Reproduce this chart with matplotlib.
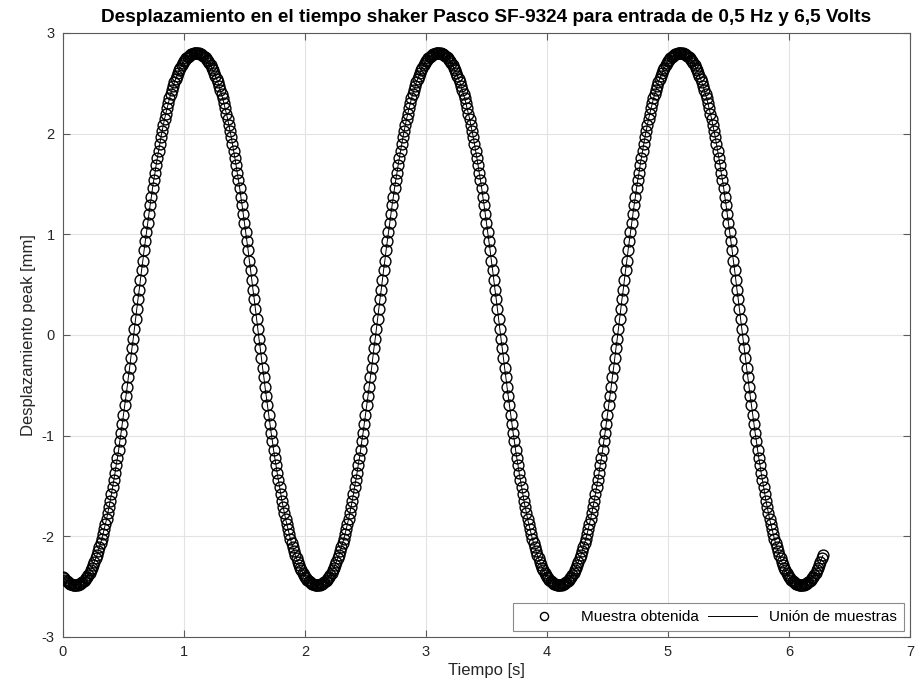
import numpy as np
import matplotlib
matplotlib.use("Agg")
import matplotlib.pyplot as plt

# ---------------- data ----------------
t_inicio = 0.0
t_paso = 0.01          # s, sample spacing
desplazamiento = [
    # t = 0.00 .. 0.10
    -2.40, -2.41, -2.43, -2.44, -2.45, -2.46, -2.47, -2.47, -2.48, -2.48, -2.48,
    # t = 0.11 .. 1.10
    -2.48, -2.48, -2.47, -2.47, -2.46, -2.45, -2.44, -2.43, -2.41, -2.40,
    -2.38, -2.36, -2.33, -2.31, -2.28, -2.25, -2.22, -2.19, -2.15, -2.11,
    -2.07, -2.03, -1.98, -1.93, -1.88, -1.83, -1.77, -1.71, -1.65, -1.58,
    -1.51, -1.44, -1.37, -1.29, -1.22, -1.14, -1.05, -0.97, -0.88, -0.79,
    -0.70, -0.61, -0.52, -0.42, -0.33, -0.23, -0.13, -0.04, 0.06, 0.16,
    0.26, 0.36, 0.45, 0.55, 0.65, 0.74, 0.84, 0.93, 1.02, 1.11,
    1.20, 1.29, 1.37, 1.46, 1.54, 1.61, 1.69, 1.76, 1.83, 1.90,
    1.97, 2.03, 2.09, 2.15, 2.20, 2.25, 2.30, 2.35, 2.39, 2.43,
    2.47, 2.51, 2.54, 2.57, 2.60, 2.63, 2.65, 2.68, 2.70, 2.72,
    2.73, 2.75, 2.76, 2.77, 2.78, 2.79, 2.79, 2.80, 2.80, 2.80,
    # t = 1.11 .. 2.10
    2.80, 2.80, 2.79, 2.79, 2.78, 2.77, 2.76, 2.75, 2.73, 2.72,
    2.70, 2.68, 2.65, 2.63, 2.60, 2.57, 2.54, 2.51, 2.47, 2.43,
    2.39, 2.35, 2.30, 2.25, 2.20, 2.15, 2.09, 2.03, 1.97, 1.90,
    1.83, 1.76, 1.69, 1.61, 1.54, 1.46, 1.37, 1.29, 1.20, 1.11,
    1.02, 0.93, 0.84, 0.74, 0.65, 0.55, 0.45, 0.36, 0.26, 0.16,
    0.06, -0.04, -0.13, -0.23, -0.33, -0.42, -0.52, -0.61, -0.70, -0.79,
    -0.88, -0.97, -1.05, -1.14, -1.22, -1.29, -1.37, -1.44, -1.51, -1.58,
    -1.65, -1.71, -1.77, -1.83, -1.88, -1.93, -1.98, -2.03, -2.07, -2.11,
    -2.15, -2.19, -2.22, -2.25, -2.28, -2.31, -2.33, -2.36, -2.38, -2.40,
    -2.41, -2.43, -2.44, -2.45, -2.46, -2.47, -2.47, -2.48, -2.48, -2.48,
    # t = 2.11 .. 3.10
    -2.48, -2.48, -2.47, -2.47, -2.46, -2.45, -2.44, -2.43, -2.41, -2.40,
    -2.38, -2.36, -2.33, -2.31, -2.28, -2.25, -2.22, -2.19, -2.15, -2.11,
    -2.07, -2.03, -1.98, -1.93, -1.88, -1.83, -1.77, -1.71, -1.65, -1.58,
    -1.51, -1.44, -1.37, -1.29, -1.22, -1.14, -1.05, -0.97, -0.88, -0.79,
    -0.70, -0.61, -0.52, -0.42, -0.33, -0.23, -0.13, -0.04, 0.06, 0.16,
    0.26, 0.36, 0.45, 0.55, 0.65, 0.74, 0.84, 0.93, 1.02, 1.11,
    1.20, 1.29, 1.37, 1.46, 1.54, 1.61, 1.69, 1.76, 1.83, 1.90,
    1.97, 2.03, 2.09, 2.15, 2.20, 2.25, 2.30, 2.35, 2.39, 2.43,
    2.47, 2.51, 2.54, 2.57, 2.60, 2.63, 2.65, 2.68, 2.70, 2.72,
    2.73, 2.75, 2.76, 2.77, 2.78, 2.79, 2.79, 2.80, 2.80, 2.80,
    # t = 3.11 .. 4.10
    2.80, 2.80, 2.79, 2.79, 2.78, 2.77, 2.76, 2.75, 2.73, 2.72,
    2.70, 2.68, 2.65, 2.63, 2.60, 2.57, 2.54, 2.51, 2.47, 2.43,
    2.39, 2.35, 2.30, 2.25, 2.20, 2.15, 2.09, 2.03, 1.97, 1.90,
    1.83, 1.76, 1.69, 1.61, 1.54, 1.46, 1.37, 1.29, 1.20, 1.11,
    1.02, 0.93, 0.84, 0.74, 0.65, 0.55, 0.45, 0.36, 0.26, 0.16,
    0.06, -0.04, -0.13, -0.23, -0.33, -0.42, -0.52, -0.61, -0.70, -0.79,
    -0.88, -0.97, -1.05, -1.14, -1.22, -1.29, -1.37, -1.44, -1.51, -1.58,
    -1.65, -1.71, -1.77, -1.83, -1.88, -1.93, -1.98, -2.03, -2.07, -2.11,
    -2.15, -2.19, -2.22, -2.25, -2.28, -2.31, -2.33, -2.36, -2.38, -2.40,
    -2.41, -2.43, -2.44, -2.45, -2.46, -2.47, -2.47, -2.48, -2.48, -2.48,
    # t = 4.11 .. 5.10
    -2.48, -2.48, -2.47, -2.47, -2.46, -2.45, -2.44, -2.43, -2.41, -2.40,
    -2.38, -2.36, -2.33, -2.31, -2.28, -2.25, -2.22, -2.19, -2.15, -2.11,
    -2.07, -2.03, -1.98, -1.93, -1.88, -1.83, -1.77, -1.71, -1.65, -1.58,
    -1.51, -1.44, -1.37, -1.29, -1.22, -1.14, -1.05, -0.97, -0.88, -0.79,
    -0.70, -0.61, -0.52, -0.42, -0.33, -0.23, -0.13, -0.04, 0.06, 0.16,
    0.26, 0.36, 0.45, 0.55, 0.65, 0.74, 0.84, 0.93, 1.02, 1.11,
    1.20, 1.29, 1.37, 1.46, 1.54, 1.61, 1.69, 1.76, 1.83, 1.90,
    1.97, 2.03, 2.09, 2.15, 2.20, 2.25, 2.30, 2.35, 2.39, 2.43,
    2.47, 2.51, 2.54, 2.57, 2.60, 2.63, 2.65, 2.68, 2.70, 2.72,
    2.73, 2.75, 2.76, 2.77, 2.78, 2.79, 2.79, 2.80, 2.80, 2.80,
    # t = 5.11 .. 6.10
    2.80, 2.80, 2.79, 2.79, 2.78, 2.77, 2.76, 2.75, 2.73, 2.72,
    2.70, 2.68, 2.65, 2.63, 2.60, 2.57, 2.54, 2.51, 2.47, 2.43,
    2.39, 2.35, 2.30, 2.25, 2.20, 2.15, 2.09, 2.03, 1.97, 1.90,
    1.83, 1.76, 1.69, 1.61, 1.54, 1.46, 1.37, 1.29, 1.20, 1.11,
    1.02, 0.93, 0.84, 0.74, 0.65, 0.55, 0.45, 0.36, 0.26, 0.16,
    0.06, -0.04, -0.13, -0.23, -0.33, -0.42, -0.52, -0.61, -0.70, -0.79,
    -0.88, -0.97, -1.05, -1.14, -1.22, -1.29, -1.37, -1.44, -1.51, -1.58,
    -1.65, -1.71, -1.77, -1.83, -1.88, -1.93, -1.98, -2.03, -2.07, -2.11,
    -2.15, -2.19, -2.22, -2.25, -2.28, -2.31, -2.33, -2.36, -2.38, -2.40,
    -2.41, -2.43, -2.44, -2.45, -2.46, -2.47, -2.47, -2.48, -2.48, -2.48,
    # t = 6.11 .. 6.28
    -2.48, -2.48, -2.47, -2.47, -2.46, -2.45, -2.44, -2.43, -2.41, -2.40,
    -2.38, -2.36, -2.33, -2.31, -2.28, -2.25, -2.22, -2.19,
]
tiempo = t_inicio + t_paso * np.arange(len(desplazamiento))

x_ticks = [0, 1, 2, 3, 4, 5, 6, 7]
y_ticks = [-3, -2, -1, 0, 1, 2, 3]

titulo = "Desplazamiento en el tiempo shaker Pasco SF-9324 para entrada de 0,5 Hz y 6,5 Volts"
etiqueta_x = "Tiempo [s]"
etiqueta_y = "Desplazamiento peak [mm]"
leyenda = ["Muestra obtenida", "Unión de muestras"]

# ---------------- figure ----------------
plt.rcParams['font.family'] = ['Liberation Sans', 'DejaVu Sans']
plt.rcParams['axes.unicode_minus'] = False
axis_col = '#5a5a5a'
text_col = '#262626'

fig = plt.figure(figsize=(9.2, 6.98), dpi=100)
ax = fig.add_axes([63 / 920, 1 - 637 / 698, (910 - 63) / 920, (637 - 33) / 698])

ax.plot(tiempo, desplazamiento, linestyle='none', marker='o', markersize=7.8,
        markerfacecolor='none', markeredgecolor='black', markeredgewidth=1.0,
        label=leyenda[0], zorder=3)
ax.plot(tiempo, desplazamiento, linestyle='-', color='black', linewidth=0.7,
        label=leyenda[1], zorder=4)

ax.set_xlim(x_ticks[0], x_ticks[-1])
ax.set_ylim(y_ticks[0], y_ticks[-1])
ax.set_xticks(x_ticks)
ax.set_yticks(y_ticks)
ax.grid(True, color='#e3e3e3', linewidth=0.8)
ax.set_axisbelow(True)

for s in ax.spines.values():
    s.set_color(axis_col)
    s.set_linewidth(0.8)
ax.tick_params(direction='in', top=True, right=True, length=5, width=0.8,
               color=axis_col, labelcolor=text_col, labelsize=10.5, pad=6)

ax.set_title(titulo, fontsize=13.7, fontweight='bold', color='black', pad=8)
ax.set_xlabel(etiqueta_x, fontsize=12, color=text_col, labelpad=3)
ax.set_ylabel(etiqueta_y, fontsize=12, color=text_col, labelpad=4)

leg = ax.legend(loc='lower right', ncol=2, fontsize=11, frameon=True,
                fancybox=False, framealpha=1, edgecolor='#8a8a8a',
                borderaxespad=0.4, handlelength=3.2, columnspacing=0.6,
                handletextpad=0.8, borderpad=0.45, markerscale=0.75)
leg.get_frame().set_linewidth(0.8)

fig.savefig('out.png', dpi=100)
